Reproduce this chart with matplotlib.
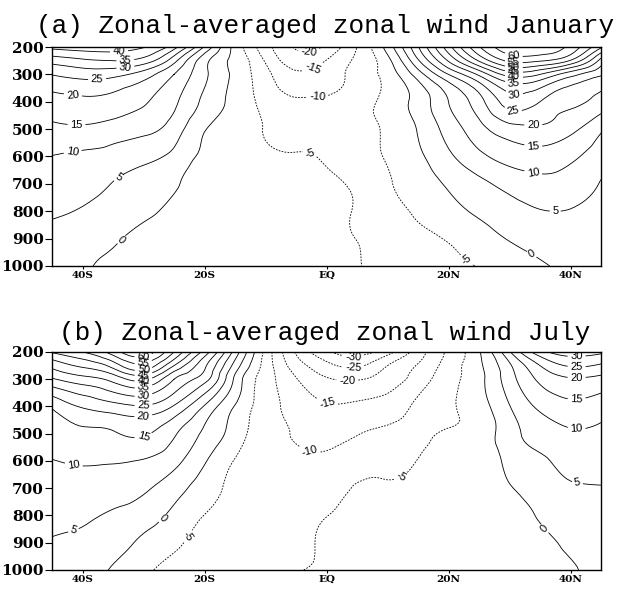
import numpy as np
import matplotlib.pyplot as plt
import matplotlib.tri as mtri

plt.rcParams['axes.unicode_minus'] = False

# latitude (deg, S negative) and pressure levels (hPa)
lats = [-45, -40, -35, -30, -25, -20, -15, -10, -5, 0, 5, 10, 15, 20, 25, 30, 35, 40, 45]
plevs = [200, 250, 300, 400, 500, 600, 700, 800, 900, 1000]

# zonal-mean zonal wind (m/s), one row per pressure level
u_january = [
    [41.5, 42.5, 42.5, 40.3, 32, 14.5, -1.8, -13, -20.5, -19, -10, 2, 19.5, 38, 54.5, 63, 64, 58.5, 46],
    [32, 34, 35, 32.8, 21.7, 6.7, -1.5, -10.5, -17.5, -14.8, -9, -1.5, 14.3, 30.5, 45.5, 56, 55.5, 49.5, 33],
    [25.2, 27, 26.5, 22.7, 15, 6, -1.2, -8.5, -14, -12.3, -8.5, -3, 7.5, 20, 31, 42, 40, 32, 25.8],
    [18.3, 19, 18.3, 15.5, 11, 3.8, -1.5, -6.8, -9.5, -9.2, -7.8, -3.2, 1.8, 10, 18, 27.5, 25, 21.3, 18.1],
    [13.5, 14, 12.7, 11.4, 7.5, 0.3, -2.2, -5.3, -6.8, -7, -6.8, -4.2, 0.3, 7, 13.2, 18, 19, 16.3, 10.8],
    [9.9, 9.2, 8.3, 6.5, 3.6, -1.2, -3, -4.5, -4.8, -5.4, -6.2, -4.6, -1, 4, 8.8, 12, 13, 11, 7.3],
    [7.8, 6.8, 4.8, 2.6, 0.5, -2.2, -3.5, -4.0, -4.1, -4.4, -5.5, -5.4, -2.5, 0.6, 3.8, 6.6, 8.5, 7.8, 4.7],
    [5.6, 4.6, 2.8, 1, -1.2, -3.2, -3.9, -4.0, -4.0, -4.2, -5.25, -6.0, -4.3, -1.7, 0.8, 3, 4.8, 4.8, 3.8],
    [3.8, 2.5, 0.7, -1.5, -3, -3.8, -4.1, -4.1, -4.1, -4.3, -5.05, -5.8, -5.6, -4.7, -2.2, 0.3, 2.2, 3.1, 3],
    [2.5, 0.8, -1.5, -2.8, -3.8, -4.2, -4.3, -4.2, -4.1, -4.2, -4.85, -5.8, -6, -5.8, -4.8, -2.8, -0.6, 1, 2],
]

u_july = [
    [45.5, 50, 57.5, 63, 50, 33, 13, -6.5, -20.5, -29, -32, -27, -17.5, -9, -0.5, 14.5, 28, 32, 31],
    [36.5, 41, 47, 53.8, 40, 26, 8, -7, -17.5, -23.5, -25.8, -20, -14.6, -7.8, -1, 9.2, 20, 25.5, 24.2],
    [29.4, 33, 36.6, 41.3, 30, 22, 4, -7.6, -14.7, -19.5, -20.3, -17.7, -12.8, -6.8, -1.5, 7.8, 16, 19.5, 18.6],
    [15.7, 20.5, 23, 24.5, 19.5, 9.5, -0.3, -7.8, -12, -14.6, -14.2, -12.8, -8.8, -5.5, -2.2, 4.8, 11, 13.7, 12.3],
    [12.7, 14, 14.5, 15.5, 10.7, 4, -2.3, -8.2, -10.3, -11.6, -10.2, -8.9, -6.6, -4.6, -3, 3, 7.2, 9.4, 9.1],
    [9.8, 10.5, 10.3, 9.7, 6.5, 0.5, -5.3, -8.4, -9.2, -9.0, -7.4, -6.4, -4.9, -4.2, -3.5, 1.3, 4.2, 6.6, 6.9],
    [8, 8.2, 7.5, 5.8, 2, -2.5, -6.5, -8.5, -8, -7.2, -4.6, -4.6, -4.3, -4, -3.8, -0.5, 2.5, 4.2, 4.7],
    [6.4, 5.9, 4.3, 2.4, -1.3, -5.1, -7.5, -8.4, -7.3, -5.1, -4.4, -4.3, -4.1, -4, -4, -2, 0.4, 2.6, 3.5],
    [4.7, 3.9, 2.2, -1, -3.9, -7, -8, -8.2, -6.3, -4.6, -4.3, -4.2, -4, -4, -4.2, -3, -1.5, 1.2, 2.5],
    [3, 1.5, -0.4, -4, -6.5, -8.3, -8.5, -7.8, -5.4, -4.5, -4.3, -4.1, -4, -4, -4.3, -3.8, -2.8, -0.6, 1.5],
]

contour_levels = list(range(-40, 75, 5))
xtick_vals = [-40, -20, 0, 20, 40]
xtick_labels = ['40S', '20S', 'EQ', '20N', '40N']
ytick_vals = [200, 300, 400, 500, 600, 700, 800, 900, 1000]

# rough spots (lat, hPa) where the original put its contour labels
label_spots_jan = [(-34, 222), (-33, 244), (-33, 268), (-37.6, 320), (-41.6, 382), (-41, 460),
                   (-41.6, 585), (-34, 680), (-33.8, 900),
                   (30.7, 229), (30.7, 256), (30.7, 276), (30.7, 296), (30.7, 315), (30.7, 350),
                   (30.7, 387), (30.7, 423), (33.9, 485), (33.9, 558), (33.9, 656), (37.5, 802),
                   (33.4, 966)]
label_spots_jan_neg = [(-3, 204), (-2.3, 268), (-1.5, 370), (-2.6, 583), (23.6, 960)]
label_spots_jul = [(-30, 222), (-30, 245), (-30, 265), (-30, 285), (-30, 305), (-30, 328),
                   (-30, 361), (-30, 394), (-30, 453), (-30, 512), (-41.5, 622), (-41.5, 853),
                   (-27.2, 802), (41, 215), (41, 255), (41, 292), (41, 372), (41, 480),
                   (41.3, 662), (35.9, 846)]
label_spots_jul_neg = [(4.4, 218), (4.4, 255), (3.4, 303), (0.1, 387), (-2.6, 549), (12, 645),
                       (-22.3, 883)]


def smooth_field(u):
    lon2d, p2d = np.meshgrid(lats, plevs)
    tri = mtri.Triangulation(lon2d.ravel(), p2d.ravel() / 10.0)
    z = np.array(u, dtype=float).ravel()
    interp = mtri.CubicTriInterpolator(tri, z, kind='min_E')
    refiner = mtri.UniformTriRefiner(tri)
    tri_f, u_f = refiner.refine_field(z, triinterpolator=interp, subdiv=3)
    tri_p = mtri.Triangulation(tri_f.x, tri_f.y * 10.0, tri_f.triangles)
    return tri_p, u_f


def draw_panel(ax, u, spots_pos, spots_neg):
    tri_p, u_f = smooth_field(u)
    pos = [lv for lv in contour_levels if lv >= 0]
    neg = [lv for lv in contour_levels if lv < 0]
    cs1 = ax.tricontour(tri_p, u_f, levels=pos, colors='k', linewidths=0.6)
    cs2 = ax.tricontour(tri_p, u_f, levels=neg, colors='k', linewidths=0.6,
                        linestyles=[(0, (2.0, 1.6))])
    for cs, spots in ((cs1, spots_pos), (cs2, spots_neg)):
        lbls = ax.clabel(cs, fmt='%d', fontsize=8, inline=True, inline_spacing=2,
                         manual=spots)
        for t in lbls:
            t.set_family('Liberation Sans')
    ax.set_xlim(-45, 45)
    ax.set_ylim(1000, 200)
    ax.set_xticks(xtick_vals)
    ax.set_xticklabels(xtick_labels, family='DejaVu Serif', fontsize=7.5, fontweight='bold')
    ax.set_yticks(ytick_vals)
    ax.set_yticklabels([str(v) for v in ytick_vals], family='DejaVu Serif', fontsize=11,
                       fontweight='bold')
    ax.tick_params(axis='y', direction='out', length=5, width=0.8, pad=1)
    ax.tick_params(axis='x', direction='out', length=2, width=0.8, pad=1.5)
    for s in ax.spines.values():
        s.set_linewidth(1.0)


fig = plt.figure(figsize=(6.29, 5.90), dpi=100)
ax_a = fig.add_axes([0.0827, 0.5492, 0.8728, 0.3711])
ax_b = fig.add_axes([0.0827, 0.0339, 0.8728, 0.3695])

draw_panel(ax_a, u_january, label_spots_jan, label_spots_jan_neg)
draw_panel(ax_b, u_july, label_spots_jul, label_spots_jul_neg)

fig.text(0.516, 0.944, '(a) Zonal-averaged zonal wind January', ha='center', va='baseline',
         family='Liberation Mono', fontsize=18.8)
fig.text(0.516, 0.4237, '(b) Zonal-averaged zonal wind July', ha='center', va='baseline',
         family='Liberation Mono', fontsize=18.8)

fig.savefig('out.png', dpi=100)
